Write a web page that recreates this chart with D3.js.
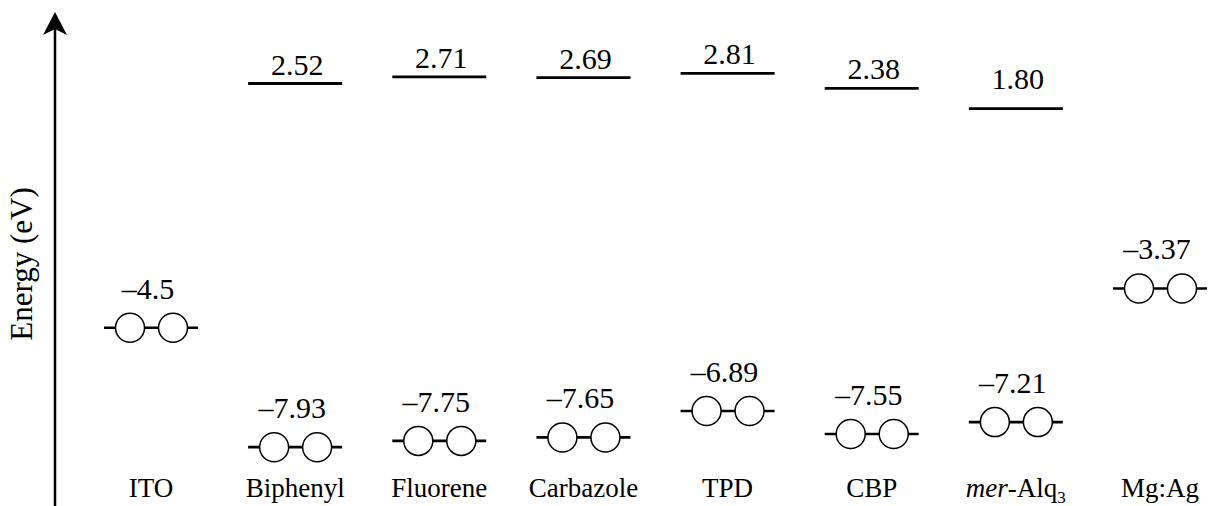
<!DOCTYPE html>
<html>
<head>
<meta charset="utf-8">
<script src="https://cdn.jsdelivr.net/npm/d3@7"></script>
</head>
<body style="margin:0">
<div id="graph"></div>
<script>

let width = 1208;
let height = 506;
let serif = "Liberation Serif";

// Materials along the x direction:
let categories = ["ITO", "Biphenyl", "Fluorene", "Carbazole", "TPD", "CBP", "mer-Alq3", "Mg:Ag"];

// Upper levels (no level for the electrodes):
let lumoValues = [null, 2.52, 2.71, 2.69, 2.81, 2.38, 1.80, null];
let lumoLabels = ["", "2.52", "2.71", "2.69", "2.81", "2.38", "1.80", ""];

// Lower levels / work functions:
let homoValues = [-4.5, -7.93, -7.75, -7.65, -6.89, -7.55, -7.21, -3.37];
let homoLabels = ["\u20134.5", "\u20137.93", "\u20137.75", "\u20137.65", "\u20136.89", "\u20137.55", "\u20137.21", "\u20133.37"];

// Energy axis domain:
let energyDomain = [-8, 3];


let levelHalf = 47;      // half the length of a level bar
let ringOffset = 21.5;   // circle centre from the bar centre
let ringRadius = 14.5;
// mer-Alq3 label sits a bit higher in the figure:
let lumoLabelLift = { "mer-Alq3": 11 };


let svg = d3.select("#graph")
	.append("svg")
		.attr("width", width)
		.attr("height", height)
	;

let xScale = d3.scalePoint()
	.domain(categories)
	.range([151, 1160])
	;

let yScale = d3.scaleLinear()
	.domain(energyDomain)
	.range([449.6, 66.8])
	;


// Energy axis: plain vertical line with arrow head:
let axisX = 55;
svg
	.append("line")
		.attr("x1", axisX)
		.attr("x2", axisX)
		.attr("y1", height)
		.attr("y2", 26)
		.attr("stroke", "#000")
		.attr("stroke-width", 2.5)
	;
svg
	.append("path")
		.attr("d", `M${axisX},12 L${axisX + 12},35 L${axisX},29 L${axisX - 12},35 Z`)
		.attr("fill", "#000")
	;
// Label axis:
svg
	.append("text")
		.attr("transform", `translate(32, 264) rotate(-90)`)
		.attr("text-anchor", "middle")
		.attr("font-family", serif)
		.attr("font-size", 31)
		.text("Energy (eV)")
	;


// Upper levels: bars with value above
let lumo = categories
	.map((c, i) => ({ name: c, value: lumoValues[i], label: lumoLabels[i] }))
	.filter(d => d.value !== null)
	;

svg
	.selectAll("line.lumo")
	.data(lumo)
	.enter()
		.append("line")
			.classed("lumo", true)
			.attr("x1", d => xScale(d.name) - levelHalf)
			.attr("x2", d => xScale(d.name) + levelHalf)
			.attr("y1", d => yScale(d.value))
			.attr("y2", d => yScale(d.value))
			.attr("stroke", "#000")
			.attr("stroke-width", 2.8)
	;
svg
	.selectAll("text.lumo")
	.data(lumo)
	.enter()
		.append("text")
			.classed("lumo", true)
			.attr("x", d => xScale(d.name) + 2)
			.attr("y", d => yScale(d.value) - 9 - (lumoLabelLift[d.name] || 0))
			.attr("text-anchor", "middle")
			.attr("font-family", serif)
			.attr("font-size", 30)
			.text(d => d.label)
	;


// Lower levels: bar with two rings
let homo = categories
	.map((c, i) => ({ name: c, value: homoValues[i], label: homoLabels[i] }))
	;

let homoGroup = svg
	.selectAll("g.homo")
	.data(homo)
	.enter()
		.append("g")
			.classed("homo", true)
			.attr("transform", d => `translate(${xScale(d.name)}, ${yScale(d.value)})`)
	;
homoGroup
	.append("line")
		.attr("x1", -levelHalf)
		.attr("x2", levelHalf)
		.attr("stroke", "#000")
		.attr("stroke-width", 2.6)
	;
homoGroup
	.selectAll("circle")
	.data([-ringOffset, ringOffset])
	.enter()
		.append("circle")
			.attr("cx", d => d + 0.5)
			.attr("r", ringRadius)
			.attr("fill", "#fff")
			.attr("stroke", "#000")
			.attr("stroke-width", 1.5)
	;
homoGroup
	.append("text")
		.attr("x", -3)
		.attr("y", -29)
		.attr("text-anchor", "middle")
		.attr("font-family", serif)
		.attr("font-size", 30)
		.text(d => d.label)
	;


// Category labels along the bottom:
let catText = svg
	.selectAll("text.cat")
	.data(categories)
	.enter()
		.append("text")
			.classed("cat", true)
			.attr("x", d => xScale(d))
			.attr("y", 497)
			.attr("text-anchor", "middle")
			.attr("font-family", serif)
			.attr("font-size", 27)
	;
catText.each(function(d) {
	let t = d3.select(this);
	let m = d.match(/^(mer)-(\D+)(\d)$/);
	if (m) {
		t.append("tspan").attr("font-style", "italic").text(m[1]);
		t.append("tspan").text("-" + m[2]);
		t.append("tspan")
			.attr("dy", 6)
			.attr("font-size", 17)
			.text(m[3]);
		}
	else {
		t.text(d);
		}
	});

</script>
</body>
</html>
